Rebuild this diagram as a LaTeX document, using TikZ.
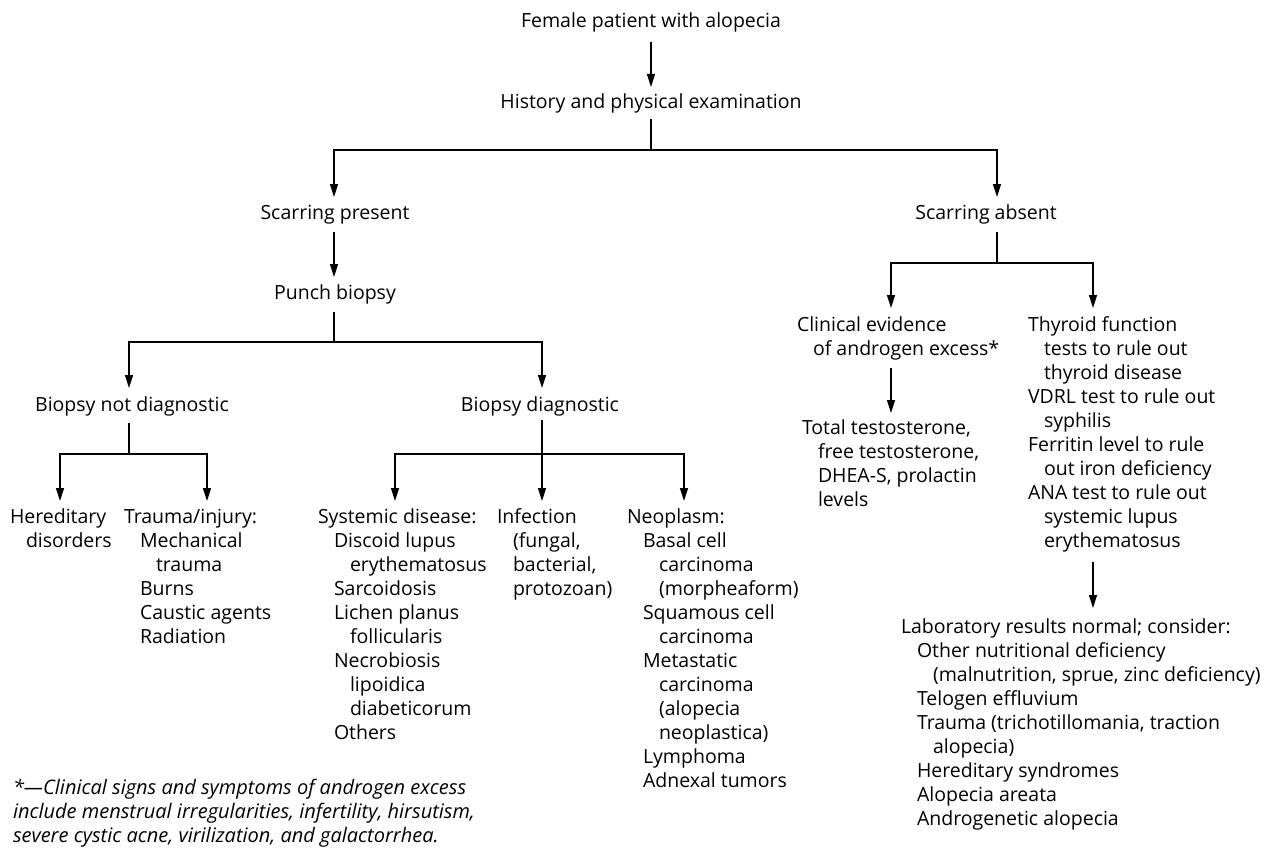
\documentclass[tikz,border=0pt]{standalone}
\usepackage{fontspec}
\setmainfont{Open Sans}
\usetikzlibrary{arrows.meta}
\newcommand\vl[1]{\vtop{\baselineskip=24pt\lineskip=0pt\lineskiplimit=-100pt #1}}
\newcommand\Lone[1]{\hbox{#1}}
\newcommand\Ltwo[1]{\hbox{\kern16pt #1}}
\newcommand\Lthree[1]{\hbox{\kern32pt #1}}
\begin{document}
\begin{tikzpicture}[x=1pt,y=-1pt,
  txt/.style={inner sep=0pt, outer sep=0pt, font=\fontsize{19.5}{24}\selectfont},
  arr/.style={-{Triangle[width=8pt,length=13pt]}, line width=1.3pt},
  ln/.style={line width=1.3pt}]
\useasboundingbox (0,0) rectangle (1267,851);
% texts
\node[txt, anchor=base] (female) at (651,28) {Female patient with alopecia};
\node[txt, anchor=base] (history) at (651,108) {History and physical examination};
\node[txt, anchor=base] (scp) at (335,219) {Scarring present};
\node[txt, anchor=base] (sca) at (986,219) {Scarring absent};
\node[txt, anchor=base] (punch) at (335,299) {Punch biopsy};
\node[txt, anchor=base] (bnd) at (132,411) {Biopsy not diagnostic};
\node[txt, anchor=base] (bd) at (540,411) {Biopsy diagnostic};
\node[txt, anchor=base west] (hered) at (10,523) {\vl{\Lone{Hereditary}\Ltwo{disorders}}};
\node[txt, anchor=base west] (trauma) at (124,523) {\vl{\Lone{Trauma/injury:}\Ltwo{Mechanical}\Lthree{trauma}\Ltwo{Burns}\Ltwo{Caustic agents}\Ltwo{Radiation}}};
\node[txt, anchor=base west] (systemic) at (318,523) {\vl{\Lone{Systemic disease:}\Ltwo{Discoid lupus}\Lthree{erythematosus}\Ltwo{Sarcoidosis}\Ltwo{Lichen planus}\Lthree{follicularis}\Ltwo{Necrobiosis}\Lthree{lipoidica}\Lthree{diabeticorum}\Ltwo{Others}}};
\node[txt, anchor=base west] (infection) at (497,523) {\vl{\Lone{Infection}\Ltwo{(fungal,}\Ltwo{bacterial,}\Ltwo{protozoan)}}};
\node[txt, anchor=base west] (neoplasm) at (627,523) {\vl{\Lone{Neoplasm:}\Ltwo{Basal cell}\Lthree{carcinoma}\Lthree{(morpheaform)}\Ltwo{Squamous cell}\Lthree{carcinoma}\Ltwo{Metastatic}\Lthree{carcinoma}\Lthree{(alopecia}\Lthree{neoplastica)}\Ltwo{Lymphoma}\Ltwo{Adnexal tumors}}};
\node[txt, anchor=base west] (clin) at (797,331) {\vl{\Lone{Clinical evidence}\Ltwo{of androgen excess*}}};
\node[txt, anchor=base west] (thyroid) at (1028,331) {\vl{\Lone{Thyroid function}\Ltwo{tests to rule out}\Ltwo{thyroid disease}\Lone{VDRL test to rule out}\Ltwo{syphilis}\Lone{Ferritin level to rule}\Ltwo{out iron deficiency}\Lone{ANA test to rule out}\Ltwo{systemic lupus}\Ltwo{erythematosus}}};
\node[txt, anchor=base west] (total) at (802,434) {\vl{\Lone{Total testosterone,}\Ltwo{free testosterone,}\Ltwo{DHEA-S, prolactin}\Ltwo{levels}}};
\node[txt, anchor=base west] (lab) at (901,633) {\vl{\Lone{Laboratory results normal; consider:}\Ltwo{Other nutritional deficiency}\Lthree{(malnutrition, sprue, zinc deficiency)}\Ltwo{Telogen effluvium}\Ltwo{Trauma (trichotillomania, traction}\Lthree{alopecia)}\Ltwo{Hereditary syndromes}\Ltwo{Alopecia areata}\Ltwo{Androgenetic alopecia}}};
\node[txt, anchor=base west, font=\fontsize{20}{24}\selectfont\itshape] (foot) at (13,794) {\vl{\Lone{*---Clinical signs and symptoms of androgen excess}\Lone{include menstrual irregularities, infertility, hirsutism,}\Lone{severe cystic acne, virilization, and galactorrhea.}}};
% junction coordinates
\coordinate (f0) at (651,42);   \coordinate (h0) at (651,87);
\coordinate (h1) at (651,119);  \coordinate (j0) at (651,150);
\coordinate (jl) at (334,150);  \coordinate (jr) at (997,150);
\coordinate (scpin) at (334,197); \coordinate (scain) at (997,197);
\coordinate (scpout) at (334,232); \coordinate (punchin) at (334,277);
\coordinate (punchout) at (334,312); \coordinate (j1) at (334,342);
\coordinate (j1l) at (129,342); \coordinate (j1r) at (542,342);
\coordinate (bndin) at (129,388); \coordinate (bdin) at (542,388);
\coordinate (bndout) at (129,423); \coordinate (j2) at (129,454);
\coordinate (j2l) at (60,454); \coordinate (j2r) at (207,454);
\coordinate (heredin) at (60,501); \coordinate (traumain) at (207,501);
\coordinate (bdout) at (542,420); \coordinate (j3) at (542,454);
\coordinate (j3l) at (395,454); \coordinate (j3r) at (684,454);
\coordinate (sysin) at (395,501); \coordinate (infin) at (542,501); \coordinate (neoin) at (684,501);
\coordinate (scaout) at (997,232); \coordinate (j4) at (997,263);
\coordinate (j4l) at (891,263); \coordinate (j4r) at (1093,263);
\coordinate (clinin) at (891,308); \coordinate (thyin) at (1093,308);
\coordinate (clinout) at (891,368); \coordinate (totalin) at (891,413);
\coordinate (thyout) at (1093,562); \coordinate (labin) at (1093,608);
% connectors
\draw[arr] (f0) -- (h0);
\draw[ln] (h1) -- (j0);
\draw[arr] (j0) -- (jl) -- (scpin);
\draw[arr] (j0) -- (jr) -- (scain);
\draw[arr] (scpout) -- (punchin);
\draw[ln] (punchout) -- (j1);
\draw[arr] (j1) -- (j1l) -- (bndin);
\draw[arr] (j1) -- (j1r) -- (bdin);
\draw[ln] (bndout) -- (j2);
\draw[arr] (j2) -- (j2l) -- (heredin);
\draw[arr] (j2) -- (j2r) -- (traumain);
\draw[arr] (bdout) -- (infin);
\draw[arr] (j3) -- (j3l) -- (sysin);
\draw[arr] (j3) -- (j3r) -- (neoin);
\draw[ln] (scaout) -- (j4);
\draw[arr] (j4) -- (j4l) -- (clinin);
\draw[arr] (j4) -- (j4r) -- (thyin);
\draw[arr] (clinout) -- (totalin);
\draw[arr] (thyout) -- (labin);
\end{tikzpicture}
\end{document}
